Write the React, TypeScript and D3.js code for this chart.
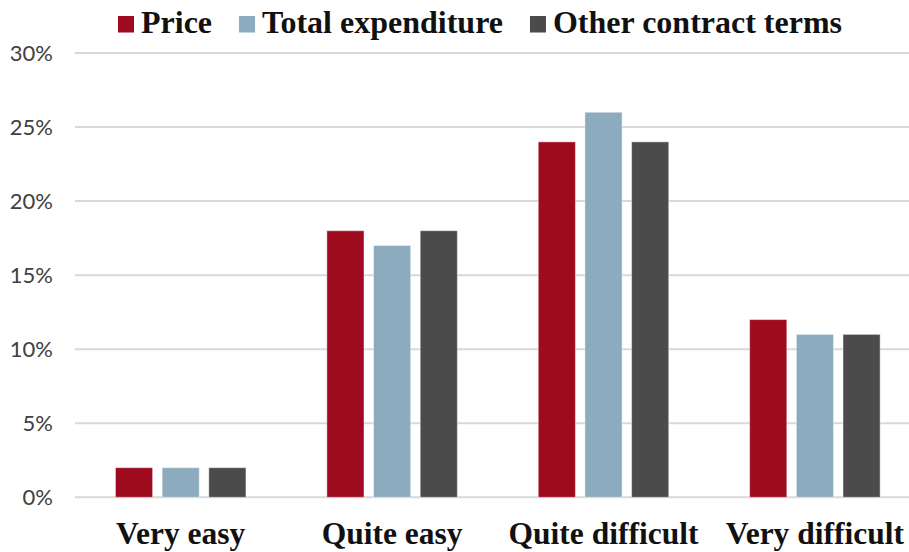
import React from "react";
import * as d3 from "d3";

// Share of respondents by perceived difficulty
const categories = ["Very easy", "Quite easy", "Quite difficult", "Very difficult"];
const seriesNames = ["Price", "Total expenditure", "Other contract terms"];
const priceValues = [0.02, 0.18, 0.24, 0.12];
const totalExpenditureValues = [0.02, 0.17, 0.26, 0.11];
const otherTermsValues = [0.02, 0.18, 0.24, 0.11];
const yTicks = [0, 0.05, 0.1, 0.15, 0.2, 0.25, 0.3];

const seriesColors = ["#9E0B1F", "#8CABBE", "#4B4B4B"];
const seriesValues = [priceValues, totalExpenditureValues, otherTermsValues];

const W = 909;
const H = 552;
const plotLeft = 75;
const bandWidth = 211.4;
const y0 = 497.3;
const yTop = 53;

const serifFont = "'Liberation Serif', 'Times New Roman', serif";
const sansFont = "Lato, 'Open Sans', sans-serif";

function measure(text: string, font: string): number {
  const canvas = document.createElement("canvas");
  const ctx = canvas.getContext("2d");
  if (!ctx) return text.length * 14;
  ctx.font = font;
  return ctx.measureText(text).width;
}

export default function App() {
  const x = d3
    .scaleBand<string>()
    .domain(categories)
    .range([plotLeft, plotLeft + bandWidth * categories.length])
    .paddingInner(0)
    .paddingOuter(0);

  const xInner = d3
    .scaleBand<string>()
    .domain(seriesNames)
    .range([-65.25, 65.25])
    .paddingInner(0.204)
    .paddingOuter(0);

  const y = d3.scaleLinear().domain([0, 0.3]).range([y0, yTop]);
  const fmt = d3.format(".0%");

  // legend layout: square, gap, label, spacing
  const legendFontSize = 32;
  const legendFont = `bold ${legendFontSize}px 'Liberation Serif'`;
  let cursor = 118;
  const legendItems = seriesNames.map((name, i) => {
    const sx = cursor;
    const tx = sx + 23;
    const tw = measure(name, legendFont);
    cursor = tx + tw + 27;
    return { name, color: seriesColors[i], sx, tx };
  });

  return (
    <svg
      width={W}
      height={H}
      style={{ position: "absolute", left: 0, top: 0, background: "#fff" }}
    >
      {/* gridlines */}
      {yTicks.map((t) => (
        <line
          key={`g${t}`}
          x1={plotLeft}
          x2={W}
          y1={y(t)}
          y2={y(t)}
          stroke="#D9D9D9"
          strokeWidth={2}
        />
      ))}

      {/* y tick labels */}
      {yTicks.map((t) => (
        <text
          key={`t${t}`}
          x={53}
          y={y(t) + 8}
          textAnchor="end"
          fontFamily={sansFont}
          fontSize={22}
          fill="#404040"
        >
          {fmt(t)}
        </text>
      ))}

      {/* bars */}
      {categories.map((c, ci) => {
        const cx = (x(c) ?? 0) + x.bandwidth() / 2;
        return (
          <g key={c}>
            {seriesNames.map((s, si) => {
              const v = seriesValues[si][ci];
              return (
                <rect
                  key={s}
                  x={cx + (xInner(s) ?? 0)}
                  y={y(v)}
                  width={xInner.bandwidth()}
                  height={y(0) - y(v)}
                  fill={seriesColors[si]}
                  stroke="rgba(255,255,255,0.45)"
                  strokeWidth={1}
                />
              );
            })}
          </g>
        );
      })}

      {/* category labels */}
      {categories.map((c) => (
        <text
          key={`c${c}`}
          x={(x(c) ?? 0) + x.bandwidth() / 2}
          y={543.5}
          textAnchor="middle"
          fontFamily={serifFont}
          fontWeight="bold"
          fontSize={31.5}
          fill="#111"
        >
          {c}
        </text>
      ))}

      {/* legend */}
      {legendItems.map((it) => (
        <g key={it.name}>
          <rect x={it.sx} y={16} width={16} height={16.5} fill={it.color} />
          <text
            x={it.tx}
            y={33.3}
            fontFamily={serifFont}
            fontWeight="bold"
            fontSize={legendFontSize}
            fill="#111"
          >
            {it.name}
          </text>
        </g>
      ))}
    </svg>
  );
}
